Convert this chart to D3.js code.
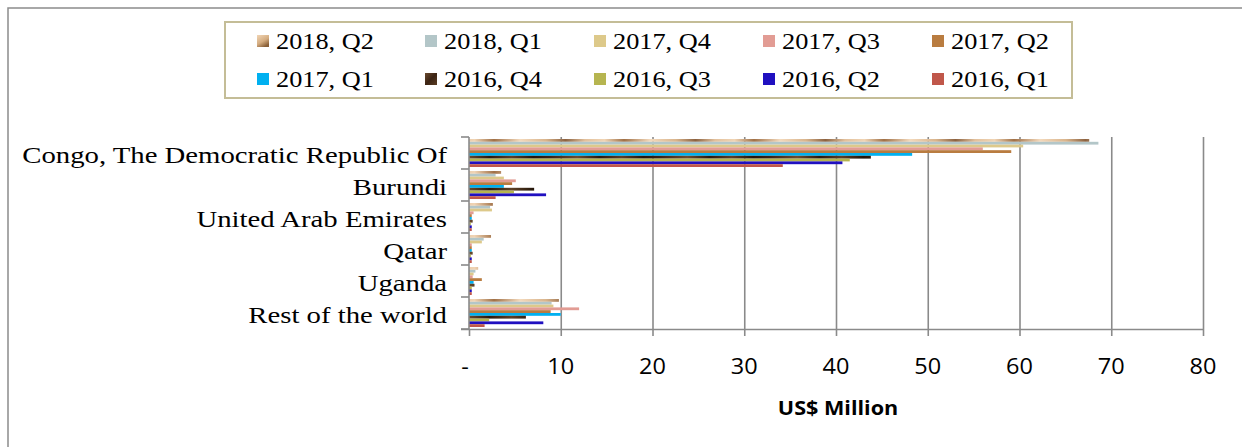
<!DOCTYPE html>
<html><head><meta charset="utf-8">
<script src="https://cdn.jsdelivr.net/npm/d3@7"></script>
<style>
html,body{margin:0;padding:0;background:#fff;}
svg{display:block;}
</style></head>
<body>
<svg id="chart" width="1242" height="447"></svg>
<script>
// ---- DATA ----
const categories = ["Congo, The Democratic Republic Of","Burundi","United Arab Emirates","Qatar","Uganda","Rest of the world"];
const seriesNames = ["2018, Q2","2018, Q1","2017, Q4","2017, Q3","2017, Q2","2017, Q1","2016, Q4","2016, Q3","2016, Q2","2016, Q1"];
const s2018Q2 = [67.6, 3.5, 2.6, 2.4, 1.0, 9.8];
const s2018Q1 = [68.6, 2.9, 2.3, 1.6, 0.7, 9.0];
const s2017Q4 = [60.4, 3.8, 2.5, 1.4, 0.5, 9.2];
const s2017Q3 = [56.0, 5.1, 0.5, 0.3, 0.4, 12.0];
const s2017Q2 = [59.1, 4.7, 0.3, 0.3, 1.4, 8.9];
const s2017Q1 = [48.3, 3.8, 0.3, 0.3, 0.5, 10.0];
const s2016Q4 = [43.8, 7.1, 0.4, 0.4, 0.6, 6.2];
const s2016Q3 = [41.5, 4.9, 0.2, 0.2, 0.3, 2.2];
const s2016Q2 = [40.7, 8.4, 0.3, 0.3, 0.3, 8.1];
const s2016Q1 = [34.2, 2.9, 0.3, 0.3, 0.3, 1.7];
const seriesValues = [s2018Q2,s2018Q1,s2017Q4,s2017Q3,s2017Q2,s2017Q1,s2016Q4,s2016Q3,s2016Q2,s2016Q1];
const xTicks = [0,10,20,30,40,50,60,70,80];
const xTickLabels = ["-","10","20","30","40","50","60","70","80"];
const xTitle = "US$  Million";

// ---- STYLE ----
const fills = ["url(#woodLight)","#b3c6c8","#ddc98a","#e29c94","#b97c40","#00b0f0","url(#woodDark)","#b6b550","#2010c0","#c0574a"];
const legendFills = ["url(#woodLightL)","#b3c6c8","#ddc98a","#e29c94","#b97c40","#00b0f0","url(#woodDarkL)","#b6b550","#2010c0","#c0574a"];
const gridColor = "#8a8a8a";

const svg = d3.select("#chart");
const defs = svg.append("defs");

function woodGrad(id, stops, x2, y2){
  const g = defs.append("linearGradient").attr("id", id)
    .attr("x1","0").attr("y1","0").attr("x2",x2).attr("y2",y2);
  stops.forEach(s => g.append("stop").attr("offset", s[0]).attr("stop-color", s[1]));
}
function woodPattern(id, gradId, w){
  const p = defs.append("pattern").attr("id", id).attr("patternUnits","userSpaceOnUse")
    .attr("width", w).attr("height", 400);
  p.append("rect").attr("width", w).attr("height", 400).attr("fill", `url(#${gradId})`);
}
const lightStops = [[0,"#f3d9bc"],[0.2,"#d9b48c"],[0.35,"#8c6240"],[0.5,"#e2c09c"],[0.65,"#f0d4b4"],[0.8,"#a07046"],[1,"#f3d9bc"]];
const darkStops = [[0,"#3b2414"],[0.25,"#6e4e30"],[0.45,"#2c1a0c"],[0.65,"#5e4026"],[0.85,"#24160a"],[1,"#3b2414"]];
woodGrad("gLight", lightStops, "1", "0");
woodGrad("gDark", darkStops, "1", "0");
woodPattern("woodLight", "gLight", 130);
woodPattern("woodDark", "gDark", 110);
woodGrad("woodLightL", [[0,"#f2d6b6"],[0.6,"#d4ac80"],[1,"#8a6038"]], "0.6", "1");
woodGrad("woodDarkL", [[0,"#6a4a2e"],[0.5,"#3c2414"],[1,"#5a3c22"]], "1", "1");

// outer frame
svg.append("rect").attr("x", 8).attr("y", 8).attr("width", 1300).attr("height", 600)
  .attr("fill", "none").attr("stroke", "#8c8c8c").attr("stroke-width", 1.5);

// ---- SCALES ----
const plotTop = 137, plotBottom = 329;
const x = d3.scaleLinear().domain([0, 80]).range([469, 1203]);
const y0 = d3.scaleBand().domain(categories).range([plotTop, plotBottom])
  .paddingInner(0.125).paddingOuter(0.0625);
const y1 = d3.scaleBand().domain(seriesNames).range([0, y0.bandwidth()]);

// gridlines
const grid = svg.append("g").attr("transform", `translate(0,${plotTop})`)
  .call(d3.axisBottom(x).tickValues(xTicks.slice(1)).tickSize(plotBottom - plotTop).tickFormat(""));
grid.select(".domain").remove();
grid.selectAll("line").attr("stroke", gridColor).attr("stroke-width", 1.6);

// bars
const barsG = svg.append("g");
seriesNames.forEach((s, si) => {
  barsG.selectAll(null).data(seriesValues[si]).enter().append("rect")
    .attr("x", x(0))
    .attr("y", (d, ci) => y0(categories[ci]) + y1(s))
    .attr("width", d => x(d) - x(0))
    .attr("height", y1.bandwidth())
    .attr("fill", fills[si]);
});

// x axis
const xAxis = svg.append("g").attr("transform", `translate(0,${plotBottom})`)
  .call(d3.axisBottom(x).tickValues(xTicks).tickFormat((d, i) => xTickLabels[i]).tickSize(7).tickPadding(0));
xAxis.select(".domain").attr("d", `M${x(0)-8},0.5H${x(80)}`).attr("stroke", gridColor).attr("stroke-width", 1.6);
xAxis.selectAll(".tick line").attr("stroke", gridColor).attr("stroke-width", 1.6);
xAxis.selectAll(".tick text").remove();
const tickLabG = svg.append("g");
xTicks.forEach((t, i) => {
  const tx = i === 0 ? x(t) - 4 : x(t);
  tickLabG.append("text").attr("transform", `translate(${tx},374) scale(1.12,1)`)
    .attr("text-anchor", "middle")
    .attr("font-family", "'Open Sans', sans-serif").attr("font-size", 21).attr("fill", "#000")
    .text(xTickLabels[i]);
});

// y axis line + boundary ticks
svg.append("line").attr("x1", x(0)).attr("x2", x(0)).attr("y1", plotTop).attr("y2", plotBottom)
  .attr("stroke", gridColor).attr("stroke-width", 1.6);
const step = y0.step();
d3.range(categories.length + 1).forEach(i => {
  const yy = plotTop + i * step;
  svg.append("line").attr("x1", x(0) - 8).attr("x2", x(0)).attr("y1", yy).attr("y2", yy)
    .attr("stroke", gridColor).attr("stroke-width", 1.6);
});

// category labels
const catG = svg.append("g");
const catTexts = categories.map(c => catG.append("text")
  .attr("x", 0).attr("y", y0(c) + y0.bandwidth() / 2 + 2).attr("dy", "0.35em")
  .attr("text-anchor", "end")
  .attr("font-family", "'Liberation Serif', 'Times New Roman', serif").attr("font-size", 23).attr("fill", "#000")
  .text(c));
const longest = catTexts[0].node().getComputedTextLength();
const catScale = 425 / longest;
catG.attr("transform", `translate(447,0) scale(${catScale},1)`);

// x title
svg.append("text").attr("transform", `translate(838,415) scale(1.08,1)`).attr("text-anchor", "middle")
  .attr("font-family", "'Open Sans', sans-serif").attr("font-weight", "bold").attr("font-size", 20)
  .attr("fill", "#000").text(xTitle);

// legend
svg.append("rect").attr("x", 225).attr("y", 22).attr("width", 847).attr("height", 76)
  .attr("fill", "#fff").attr("stroke", "#c4bd97").attr("stroke-width", 2);
const colX = [257, 425, 594, 763, 932];
const rowY = [41, 79];
seriesNames.forEach((s, i) => {
  const col = i % 5, row = Math.floor(i / 5);
  const g = svg.append("g").attr("transform", `translate(${colX[col]},${rowY[row]})`);
  g.append("rect").attr("x", 0).attr("y", -6).attr("width", 12).attr("height", 12).attr("fill", legendFills[i]);
  const t = g.append("text").attr("x", 0).attr("y", 0).attr("dy", "0.35em")
    .attr("font-family", "'Liberation Serif', 'Times New Roman', serif").attr("font-size", 23).attr("fill", "#000")
    .text(s);
  const w = t.node().getComputedTextLength();
  t.attr("transform", `translate(19,0) scale(${98 / w * (s.length === 8 ? 1 : 1)},1)`);
});
</script>
</body></html>
